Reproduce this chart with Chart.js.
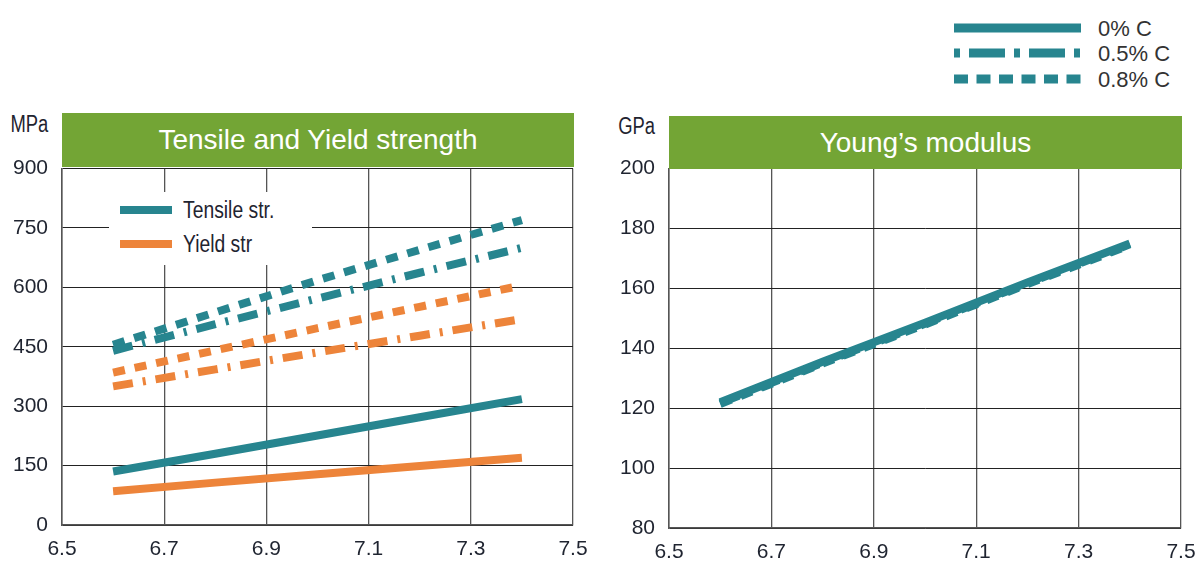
<!DOCTYPE html>
<html>
<head>
<meta charset="utf-8">
<script src="https://cdn.jsdelivr.net/npm/chart.js@4.4.1/dist/chart.umd.min.js"></script>
<style>
  body { margin: 0; background: #fff; width: 1198px; height: 562px; position: relative; overflow: hidden; font-family: "Liberation Sans", Arial, sans-serif; }
  .box { position: absolute; }
  .bar { position: absolute; background: #73a535; color: #fff; font-size: 28px; text-align: center; }
  .unit { position: absolute; font-size: 23px; color: #1f2430; line-height: 1; transform: scaleX(0.8); transform-origin: right center; }
  .leg { position: absolute; background: #fff; }
  .leg div { position: absolute; font-size: 23px; color: #1f2430; line-height: 1; transform: scaleX(0.84); transform-origin: left center; white-space: nowrap; }
  .top div { position: absolute; font-size: 22px; color: #333; line-height: 1; }
</style>
</head>
<body>

<div class="box" style="left:0; top:142px; width:600px; height:420px;"><canvas id="left"></canvas></div>
<div class="box" style="left:600px; top:142px; width:608px; height:420px;"><canvas id="right"></canvas></div>
<div class="unit" style="right:1150px; top:113px;">MPa</div>
<div class="unit" style="right:543px; top:115px;">GPa</div>
<div class="bar" style="left:62px; top:113px; width:512px; height:54px; line-height:54px;">Tensile and Yield strength</div>
<div class="bar" style="left:669px; top:116px; width:513px; height:53px; line-height:53px;">Young’s modulus</div>

<div class="leg" style="left:109px; top:192px; width:203px; height:73px;">
  <svg width="203" height="73" style="position:absolute;left:0;top:0">
    <line x1="11" y1="18" x2="63" y2="18" stroke="#27858f" stroke-width="8"/>
    <line x1="11" y1="52" x2="63" y2="52" stroke="#ed843a" stroke-width="8"/>
  </svg>
  <div style="left:74px; top:7px;">Tensile str.</div>
  <div style="left:74px; top:41px;">Yield str</div>
</div>

<div class="top">
  <svg width="140" height="100" style="position:absolute;left:950px;top:0">
    <line x1="4" y1="28" x2="131" y2="28" stroke="#27858f" stroke-width="9"/>
    <line x1="4" y1="53" x2="131" y2="53" stroke="#27858f" stroke-width="9" stroke-dasharray="6 9 36 9"/>
    <line x1="4" y1="79" x2="131" y2="79" stroke="#27858f" stroke-width="9" stroke-dasharray="14 8.5"/>
  </svg>
  <div style="left:1098px; top:18px;">0% C</div>
  <div style="left:1098px; top:43px;">0.5% C</div>
  <div style="left:1098px; top:69px;">0.8% C</div>
</div>

<script>
var teal = '#27858f';
var orange = '#ed843a';

// densities (x) and values
var xTicks = [6.5, 6.7, 6.9, 7.1, 7.3, 7.5];
var density = [6.6, 6.8, 7.0, 7.2, 7.4];

var tensile0 = [135, 180, 226, 272, 318];
var tensile05 = [440, 507, 572, 637, 700];
var tensile08 = [455, 537, 618, 695, 770];
var yield0 = [85, 107, 128, 149, 170];
var yield05 = [350, 393, 436, 478, 520];
var yield08 = [385, 441, 497, 551, 605];

var young0 = [122, 135.5, 148.5, 162, 175];
var young05 = [121.7, 135.2, 148.2, 161.7, 174.7];
var young08 = [121.4, 134.9, 147.9, 161.4, 174.4];

var solid = [];
var dashDot = [20, 10, 3, 10];
var dashed = [12, 10];

function pts(ys) {
  return ys.map(function(y, i) { return { x: density[i], y: y }; });
}

function ds(label, ys, color, dash) {
  return {
    label: label,
    data: pts(ys),
    borderColor: color,
    borderWidth: 8,
    borderDash: dash,
    borderCapStyle: 'butt',
    pointRadius: 0,
    tension: 0,
    fill: false
  };
}

function opts(yMin, yMax, yStep, yWidth, xHeight, padRight) {
  return {
    responsive: true,
    maintainAspectRatio: false,
    animation: false,
    layout: { autoPadding: false, padding: { top: 0, right: padRight, left: 0, bottom: 0 } },
    plugins: { legend: { display: false }, tooltip: { enabled: false } },
    scales: {
      x: {
        type: 'linear',
        min: 6.5,
        max: 7.5,
        afterBuildTicks: function(scale) {
          scale.ticks = xTicks.map(function(v) { return { value: v }; });
        },
        afterFit: function(scale) { scale.height = xHeight; },
        grid: { color: '#555', lineWidth: 1.3, drawTicks: false },
        border: { color: '#555', width: 1.5 },
        ticks: {
          padding: 12,
          color: '#1f2430',
          font: { family: 'Liberation Sans', size: 21 },
          callback: function(v) { return v.toFixed(1); }
        }
      },
      y: {
        min: yMin,
        max: yMax,
        afterFit: function(scale) { scale.width = yWidth; },
        grid: { color: '#222', lineWidth: 1, drawTicks: false },
        border: { color: '#555', width: 1.5 },
        ticks: {
          stepSize: yStep,
          padding: 14,
          color: '#1f2430',
          font: { family: 'Liberation Sans', size: 21 }
        }
      }
    }
  };
}

new Chart(document.getElementById('left'), {
  type: 'line',
  data: {
    datasets: [
      ds('Tensile 0% C', tensile0, teal, solid),
      ds('Yield 0% C', yield0, orange, solid),
      ds('Tensile 0.5% C', tensile05, teal, dashDot),
      ds('Tensile 0.8% C', tensile08, teal, dashed),
      ds('Yield 0.5% C', yield05, orange, dashDot),
      ds('Yield 0.8% C', yield08, orange, dashed)
    ]
  },
  options: opts(0, 900, 150, 62, 37, 27)
});

new Chart(document.getElementById('right'), {
  type: 'line',
  data: {
    datasets: [
      ds('0% C', young0, teal, solid),
      ds('0.5% C', young05, teal, dashDot),
      ds('0.8% C', young08, teal, dashed)
    ]
  },
  options: opts(80, 200, 20, 69, 34, 27)
});
</script>
</body>
</html>
